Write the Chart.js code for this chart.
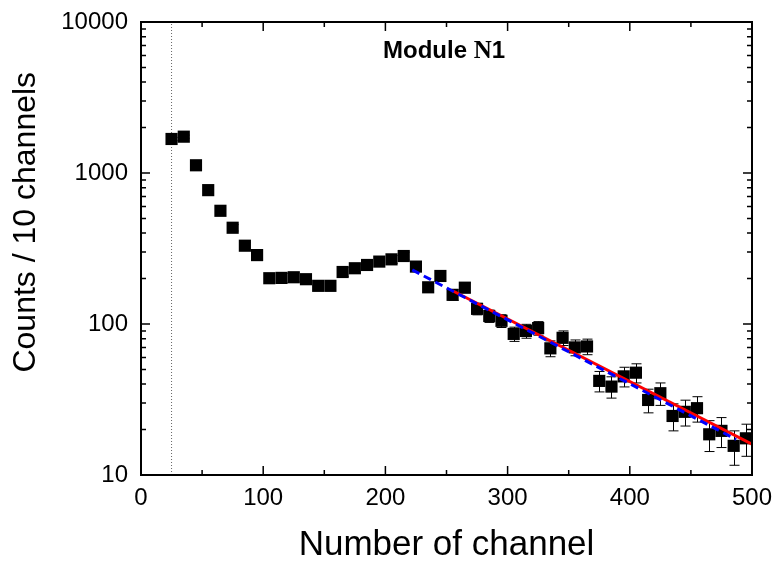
<!DOCTYPE html>
<html lang="en">

<head>
    <meta charset="UTF-8">
    <title>Module N1 spectrum</title>
    <script src="https://cdn.jsdelivr.net/npm/chart.js"></script>
    <style>
        body { margin: 0; background: #fff; }
    </style>
</head>

<body>
    <canvas id="myChart" width="775" height="566"></canvas>

    <script>
        // measured spectrum (10-channel bins)
        const channels = [25, 35, 45, 55, 65, 75, 85, 95, 105, 115, 125, 135, 145, 155, 165, 175,
            185, 195, 205, 215, 225, 235, 245, 255, 265, 275, 285, 295, 305, 315, 325, 335,
            345, 355, 365, 375, 385, 395, 405, 415, 425, 435, 445, 455, 465, 475, 485, 495];
        const counts = [1680, 1740, 1125, 770, 562, 434, 330, 286, 201, 202, 204, 198, 179, 179, 221, 234,
            246, 259, 268, 282, 240, 175, 208, 156, 174, 126, 113, 105, 86, 90, 94, 69,
            81, 70, 71, 42, 38.5, 45, 47.6, 31.4, 34.8, 24.6, 26.2, 27.7, 18.6, 19.6, 15.6, 17.5];
        const countErrors = [41, 42, 34, 28, 24, 21, 18, 17, 14, 14, 14, 14, 13, 13, 15, 15,
            16, 16, 16, 17, 15, 13, 14, 12.5, 13, 11, 10.6, 10.2, 9.3, 9.5, 9.7, 8.3,
            9, 8.4, 8.4, 6.5, 6.2, 6.7, 6.9, 5.6, 5.9, 5, 5.1, 5.3, 4.3, 4.4, 4, 4.2];

        // exponential fits (end points)
        const fitBlueX = [222, 487];
        const fitBlueY = [228, 17.2];
        const fitRedX = [255, 500];
        const fitRedY = [166, 16.0];

        // threshold marker
        const cutX = [25, 25];
        const cutY = [10, 10000];

        const xTicks = [0, 100, 200, 300, 400, 500];
        const yTicks = [10, 100, 1000, 10000];

        const pts = (xs, ys) => xs.map((x, i) => ({ x: x, y: ys[i] }));

        const yAll = [];
        for (let d = 10; d < 10000; d *= 10) {
            for (let k = 1; k < 10; k++) yAll.push(d * k);
        }
        yAll.push(10000);

        const sans = '"Liberation Sans", Arial, sans-serif';

        // error bars under the markers
        const errorBars = {
            id: 'errorBars',
            beforeDatasetsDraw(chart) {
                const { ctx, scales: { x, y } } = chart;
                ctx.save();
                ctx.strokeStyle = '#000';
                ctx.lineWidth = 1;
                channels.forEach((c, i) => {
                    const px = Math.round(x.getPixelForValue(c)) + 0.5;
                    const top = y.getPixelForValue(counts[i] + countErrors[i]);
                    const bot = y.getPixelForValue(counts[i] - countErrors[i]);
                    ctx.beginPath();
                    ctx.moveTo(px, top); ctx.lineTo(px, bot);
                    ctx.moveTo(px - 5, top); ctx.lineTo(px + 5, top);
                    ctx.moveTo(px - 5, bot); ctx.lineTo(px + 5, bot);
                    ctx.stroke();
                });
                ctx.restore();
            }
        };

        // box with inward ticks on all four sides, y title and plot title
        const frame = {
            id: 'frame',
            afterDraw(chart) {
                const { ctx, chartArea: a, scales: { x, y } } = chart;
                ctx.save();
                ctx.strokeStyle = '#000';
                ctx.lineWidth = 2;
                ctx.strokeRect(a.left, a.top, a.right - a.left, a.bottom - a.top);
                ctx.lineWidth = 1.5;
                ctx.beginPath();
                y.ticks.forEach(t => {
                    const py = y.getPixelForValue(t.value);
                    const len = yTicks.includes(t.value) ? 9 : 5;
                    ctx.moveTo(a.left, py); ctx.lineTo(a.left + len, py);
                    ctx.moveTo(a.right, py); ctx.lineTo(a.right - len, py);
                });
                x.ticks.forEach(t => {
                    const px = x.getPixelForValue(t.value);
                    const len = t.value % 100 === 0 ? 9 : 5;
                    ctx.moveTo(px, a.bottom); ctx.lineTo(px, a.bottom - len);
                    ctx.moveTo(px, a.top); ctx.lineTo(px, a.top + len);
                });
                ctx.stroke();

                ctx.fillStyle = '#000';

                // y axis title (sits a bit above the middle, as in the original)
                ctx.save();
                ctx.translate(26, a.top + (a.bottom - a.top) * 0.442);
                ctx.rotate(-Math.PI / 2);
                ctx.textAlign = 'center';
                ctx.textBaseline = 'middle';
                ctx.font = '32px ' + sans;
                ctx.fillText('Counts / 10 channels', 0, 0);
                ctx.restore();

                // title: "Module N1"
                ctx.textBaseline = 'alphabetic';
                ctx.textAlign = 'left';
                const f1 = 'bold 24px ' + sans;
                const f2 = 'bold 25px "Liberation Serif", "Times New Roman", serif';
                const s1 = 'Module ', s2 = 'N', s3 = '1';
                ctx.font = f1;
                const w1 = ctx.measureText(s1).width, w3 = ctx.measureText(s3).width;
                ctx.font = f2;
                const w2 = ctx.measureText(s2).width;
                const cx = x.getPixelForValue(248);
                let tx = cx - (w1 + w2 + w3) / 2;
                const ty = a.top + 36;
                ctx.font = f1; ctx.fillText(s1, tx, ty); tx += w1;
                ctx.font = f2; ctx.fillText(s2, tx, ty); tx += w2;
                ctx.font = f1; ctx.fillText(s3, tx, ty);
                ctx.restore();
            }
        };

        const ctx = document.getElementById('myChart').getContext('2d');
        new Chart(ctx, {
            type: 'scatter',
            data: {
                datasets: [
                    {
                        label: 'fit 2',
                        data: pts(fitBlueX, fitBlueY),
                        showLine: true,
                        borderColor: '#0000ff',
                        borderWidth: 3,
                        borderDash: [8, 5],
                        pointRadius: 0,
                        order: 0
                    },
                    {
                        label: 'fit 1',
                        data: pts(fitRedX, fitRedY),
                        showLine: true,
                        borderColor: '#ff0000',
                        borderWidth: 3,
                        pointRadius: 0,
                        order: 1
                    },
                    {
                        label: 'data',
                        data: pts(channels, counts),
                        pointStyle: 'rect',
                        pointRadius: 8.6,
                        backgroundColor: '#000',
                        borderColor: '#000',
                        borderWidth: 0,
                        order: 2
                    },
                    {
                        label: 'threshold',
                        data: pts(cutX, cutY),
                        showLine: true,
                        borderColor: '#666',
                        borderWidth: 1,
                        borderDash: [1, 2],
                        pointRadius: 0,
                        order: 3
                    }
                ]
            },
            options: {
                responsive: false,
                animation: false,
                devicePixelRatio: 1,
                layout: { padding: { top: 22, right: 23, left: 0, bottom: 0 } },
                plugins: {
                    legend: { display: false },
                    tooltip: { enabled: false }
                },
                scales: {
                    x: {
                        type: 'linear',
                        min: 0,
                        max: 500,
                        grid: { display: false, drawTicks: false },
                        border: { display: false },
                        afterFit: (s) => { s.height = 91; s.paddingLeft = 0; s.paddingRight = 0; },
                        ticks: {
                            stepSize: 50,
                            autoSkip: false,
                            maxRotation: 0,
                            padding: 9,
                            color: '#000',
                            font: { family: sans, size: 24 },
                            callback: (v) => xTicks.includes(v) ? String(v) : ''
                        },
                        title: {
                            display: true,
                            text: 'Number of channel',
                            color: '#000',
                            padding: { top: 0, bottom: 0 },
                            font: { family: sans, size: 35 }
                        }
                    },
                    y: {
                        type: 'logarithmic',
                        min: 10,
                        max: 10000,
                        grid: { display: false, drawTicks: false },
                        border: { display: false },
                        afterFit: (s) => { s.width = 141; s.paddingTop = 0; s.paddingBottom = 0; },
                        afterBuildTicks: (s) => { s.ticks = yAll.map(v => ({ value: v })); },
                        ticks: {
                            autoSkip: false,
                            padding: 13,
                            color: '#000',
                            font: { family: sans, size: 24 },
                            callback: (v) => yTicks.includes(v) ? String(v) : ''
                        },
                        title: { display: false }
                    }
                }
            },
            plugins: [errorBars, frame]
        });
    </script>
</body>

</html>
